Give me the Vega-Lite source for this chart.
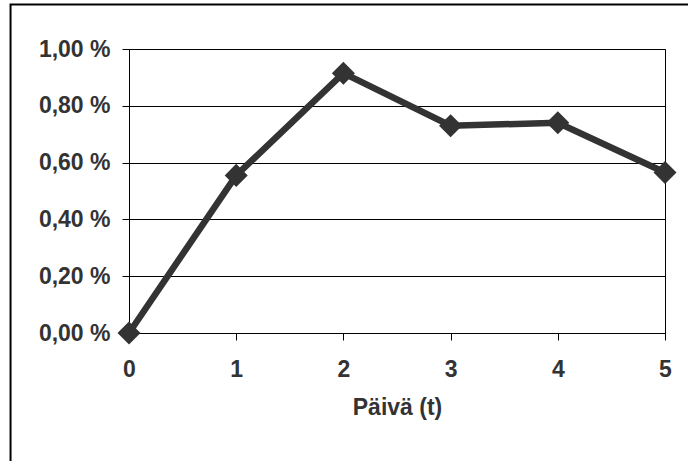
{
  "$schema": "https://vega.github.io/schema/vega-lite/v6.json",
  "width": 536,
  "height": 284,
  "autosize": {"type": "none"},
  "padding": {"left": 129, "top": 49, "right": 23, "bottom": 128},
  "background": "white",
  "config": {
    "font": "Liberation Sans",
    "view": {"stroke": "black", "strokeWidth": 1},
    "axis": {
      "domainColor": "black",
      "domainWidth": 1,
      "tickColor": "black",
      "tickWidth": 1,
      "labelFont": "Liberation Sans",
      "labelFontWeight": "bold",
      "labelFontSize": 23,
      "labelColor": "#333333",
      "titleFont": "Liberation Sans",
      "titleFontWeight": "bold",
      "titleFontSize": 23,
      "titleColor": "#333333"
    }
  },
  "layer": [
    {
      "data": {"values": [{"kehys": "kaavioalue"}]},
      "mark": {"type": "rect", "filled": false, "stroke": "black", "strokeWidth": 2, "strokeOpacity": 1, "clip": false},
      "encoding": {
        "x": {"datum": -1.105, "type": "quantitative", "scale": {"domain": [0, 5], "nice": false, "zero": false}},
        "x2": {"datum": 5.6},
        "y": {"datum": 1.157, "type": "quantitative", "scale": {"domain": [0, 1], "nice": false}},
        "y2": {"datum": -0.6}
      }
    },
    {
      "data": {
        "values": [
          {"paiva": 0, "osuus": 0.0},
          {"paiva": 1, "osuus": 0.555},
          {"paiva": 2, "osuus": 0.915},
          {"paiva": 3, "osuus": 0.73},
          {"paiva": 4, "osuus": 0.74},
          {"paiva": 5, "osuus": 0.565}
        ]
      },
      "encoding": {
        "x": {
          "field": "paiva",
          "type": "quantitative",
          "scale": {"domain": [0, 5], "nice": false, "zero": false},
          "axis": {
            "title": "Päivä (t)",
            "values": [0, 1, 2, 3, 4, 5],
            "format": "d",
            "grid": false,
            "tickSize": 7,
            "labelPadding": 18,
            "titlePadding": 15,
            "labelFlush": false
          }
        },
        "y": {
          "field": "osuus",
          "type": "quantitative",
          "scale": {"domain": [0, 1], "nice": false},
          "axis": {
            "title": null,
            "values": [0, 0.2, 0.4, 0.6, 0.8, 1.0],
            "labelExpr": "replace(format(datum.value, '.2f'), '.', ',') + ' %'",
            "grid": true,
            "gridColor": "black",
            "gridWidth": 1,
            "gridOpacity": 1,
            "tickSize": 7,
            "labelPadding": 12,
            "labelFlush": false
          }
        }
      },
      "layer": [
        {
          "mark": {"type": "line", "color": "#333333", "strokeWidth": 6.5, "strokeJoin": "miter"}
        },
        {
          "mark": {"type": "point", "shape": "diamond", "filled": true, "size": 530, "color": "#333333", "opacity": 1}
        }
      ]
    }
  ]
}
